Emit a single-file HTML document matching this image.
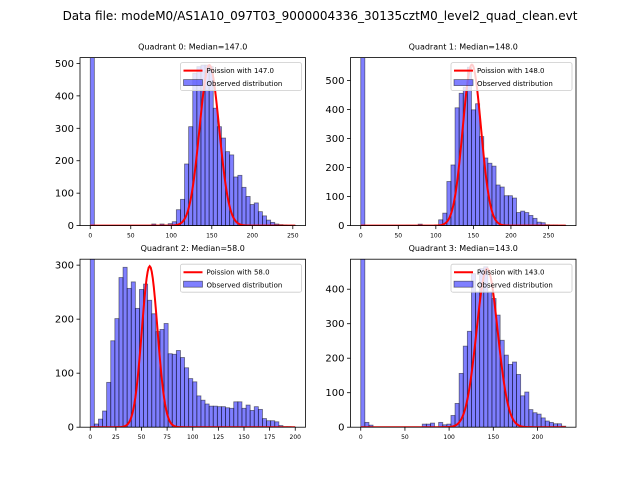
<!DOCTYPE html>
<html><head><meta charset="utf-8">
<style>
body{margin:0;background:#fff;}
svg{display:block;font-family:"DejaVu Sans","Liberation Sans",sans-serif;}
</style></head>
<body>
<svg id="fig" width="640" height="480" viewBox="0 0 640 480" xmlns="http://www.w3.org/2000/svg">
<rect width="640" height="480" fill="#fff"/>
<text x="320" y="20" font-size="12" text-anchor="middle">Data file: modeM0/AS1A10_097T03_9000004336_30135cztM0_level2_quad_clean.evt</text>
</svg>
<script>
const titles = ["Quadrant 0: Median=147.0","Quadrant 1: Median=148.0","Quadrant 2: Median=58.0","Quadrant 3: Median=143.0"];
const medians = [147, 148, 58, 143];
const dataMax = [253, 273, 200, 232];
const yMax = [518, 579, 311, 487];
const curvePeak = [495, 555, 298, 460];
const xTicks0 = [0,50,100,150,200,250];
const xTicks1 = [0,50,100,150,200,250];
const xTicks2 = [0,25,50,75,100,125,150,175,200];
const xTicks3 = [0,50,100,150,200];
const yTicks0 = [0,100,200,300,400,500];
const yTicks1 = [0,100,200,300,400,500];
const yTicks2 = [0,100,200,300];
const yTicks3 = [0,100,200,300,400];
const counts0 = [2000,0,0,0,0,0,0,0,0,0,0,0,0,0,0,5,0,5,2,6,12,49,81,190,305,470,490,495,495,490,362,305,270,228,218,150,155,118,90,65,70,43,30,17,10,5,3,2,1,1];
const counts1 = [2000,0,0,0,0,0,0,0,0,0,0,1,0,0,5,0,0,0,2,20,43,152,209,406,456,477,546,399,420,307,233,215,205,140,133,103,103,95,45,50,45,35,25,12,10,3,2,2,1,1];
const counts2 = [2000,6,15,30,83,160,201,277,296,257,269,220,255,265,235,210,177,181,192,136,135,142,129,110,90,84,58,50,43,39,39,38,38,36,35,47,47,35,41,31,38,33,16,12,12,10,3,1,1,0];
const counts3 = [2000,14,6,0,0,0,0,0,0,0,0,0,0,0,0,9,9,12,0,14,7,9,34,69,156,235,278,445,392,460,465,392,373,325,252,209,182,189,153,91,102,51,42,38,27,18,14,10,10,3];

const allCounts=[counts0,counts1,counts2,counts3];
const allX=[xTicks0,xTicks1,xTicks2,xTicks3];
const allY=[yTicks0,yTicks1,yTicks2,yTicks3];
const NS="http://www.w3.org/2000/svg";
const fig=document.getElementById('fig');
const boxes=[[80,57.6],[350.5,57.6],[80,259.2],[350.5,259.2]];
const W=225.5,H=168;
function mk(tag,attrs,parent){const e=document.createElementNS(NS,tag);for(const k in attrs)e.setAttribute(k,attrs[k]);(parent||fig).appendChild(e);return e;}

for(let q=0;q<4;q++){
  const [L,T]=boxes[q];
  const R=dataMax[q], xmin=-0.05*R, xmax=1.05*R;
  const sx=v=>L+(v-xmin)/(xmax-xmin)*W;
  const sy=v=>T+H-Math.min(v,yMax[q]*1.2)/yMax[q]*H;
  const g=mk('g',{});
  
  
  const cid='clip'+q;
  const cp=mk('clipPath',{id:cid},g);mk('rect',{x:L,y:T,width:W,height:H},cp);
  const plot=mk('g',{'clip-path':'url(#'+cid+')'},g);
  const bw=R/50;
  const cs=allCounts[q];
  for(let i=0;i<cs.length;i++){
    if(cs[i]<=0)continue;
    const x0=sx(i*bw),x1=sx((i+1)*bw);
    const b=mk('rect',{x:x0,y:sy(cs[i]),width:x1-x0,height:sy(0)-sy(cs[i]),fill:'#0000ff','fill-opacity':0.5,stroke:'#000','stroke-opacity':0.5,'stroke-width':0.8},plot);
    
    
  }
  const lam=medians[q];let d='';
  for(let k=0;k<=R;k++){const v=curvePeak[q]*Math.exp(-(k-lam)*(k-lam)/(2*lam));d+=(k?'L':'M')+sx(k).toFixed(2)+' '+sy(v).toFixed(2);}
  const c=mk('path',{d:d,fill:'none',stroke:'#ff0000','stroke-width':2},plot);
  
  
  const fr=mk('rect',{x:L,y:T,width:W,height:H,fill:'none',stroke:'#000','stroke-width':0.8},g);
  
  
  for(const t of allX[q]){
    const x=sx(t);
    mk('line',{x1:x,x2:x,y1:T+H,y2:T+H+3.5,stroke:'#000','stroke-width':0.8},g);
    const tx=mk('text',{x:x,y:T+H+12,'font-size':6,'text-anchor':'middle'},g);tx.textContent=t;
    
    
  }
  for(const t of allY[q]){
    const y=sy(t);
    mk('line',{x1:L-3.5,x2:L,y1:y,y2:y,stroke:'#000','stroke-width':0.8},g);
    const ty=mk('text',{x:L-6,y:y+3.5,'font-size':10,'text-anchor':'end'},g);ty.textContent=t;
    
    
  }
  const tt=mk('text',{x:L+W/2,y:T-8,'font-size':8,'text-anchor':'middle'},g);tt.textContent=titles[q];
  
  
  const lg=mk('g',{},g);
  
  
  const lx=L+W-125, ly=T+5;
  mk('rect',{x:lx,y:ly,width:121,height:28,fill:'#fff','fill-opacity':0.8,stroke:'#ccc','stroke-width':0.8,rx:2},lg);
  mk('line',{x1:lx+3,x2:lx+22,y1:ly+8,y2:ly+8,stroke:'#ff0000','stroke-width':2},lg);
  mk('rect',{x:lx+3,y:ly+17,width:19,height:6,fill:'#0000ff','fill-opacity':0.5,stroke:'#000','stroke-opacity':0.5,'stroke-width':0.8},lg);
  const l1=mk('text',{x:lx+26,y:ly+10.5,'font-size':7},lg);l1.textContent='Poission with '+medians[q].toFixed(1);
  
  
  const l2=mk('text',{x:lx+26,y:ly+23.5,'font-size':7},lg);l2.textContent='Observed distribution';
  
  
}
</script>
</body></html>
